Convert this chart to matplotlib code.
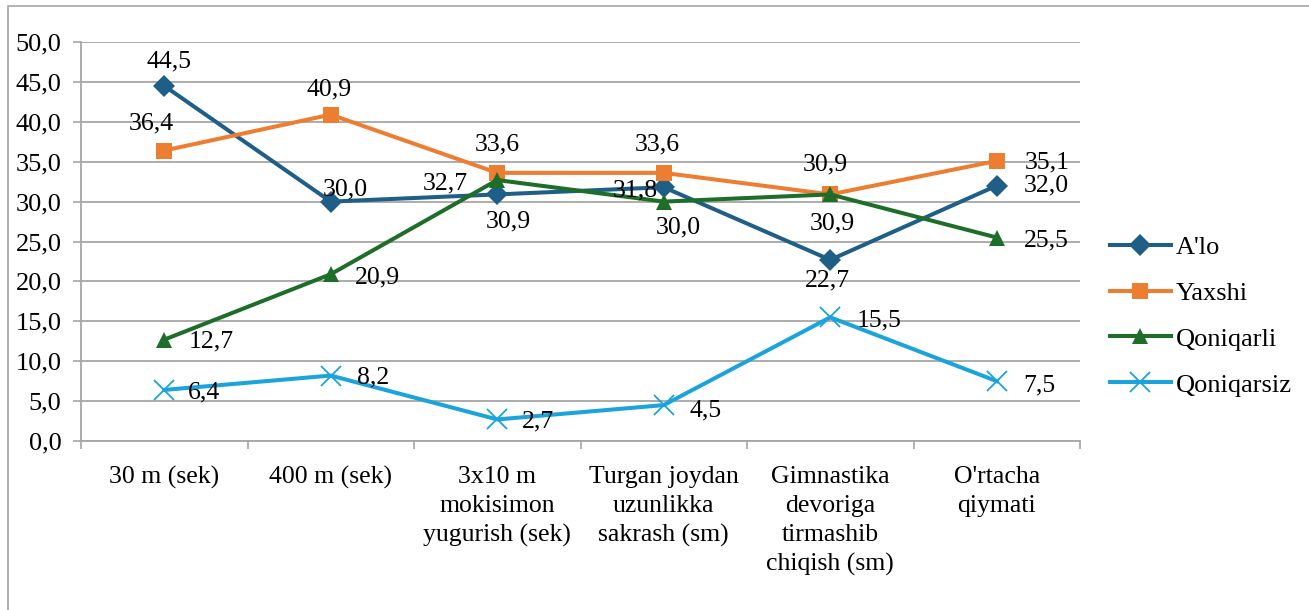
import numpy as np
import matplotlib.pyplot as plt
from matplotlib.patches import Rectangle

plt.rcParams['font.family'] = ['Liberation Serif', 'DejaVu Serif']

categories = ["30 m (sek)", "400 m (sek)", "3x10 m\nmokisimon\nyugurish (sek)",
              "Turgan joydan\nuzunlikka\nsakrash (sm)", "Gimnastika\ndevoriga\ntirmashib\nchiqish (sm)",
              "O'rtacha\nqiymati"]
alo = [44.5, 30.0, 30.9, 31.8, 22.7, 32.0]
yaxshi = [36.4, 40.9, 33.6, 33.6, 30.9, 35.1]
qoniqarli = [12.7, 20.9, 32.7, 30.0, 30.9, 25.5]
qoniqarsiz = [6.4, 8.2, 2.7, 4.5, 15.5, 7.5]
yticks = np.arange(0, 55, 5)

# label offsets in pixels (dx, dy), per point
off_alo = [(5, 24), (15, 12), (11, -27), (-28, -3), (-3, -21), (50, 0)]
off_yax = [(-13, 27), (-2, 25), (0, 28), (-6, 28), (-5, 30), (50, -2)]
off_qon = [(47, -2), (47, -3), (-52, -3), (15, -26), (2, -29), (50, -3)]
off_qsz = [(40, -3), (42, -2), (41, -2), (42, -5), (49, -3), (43, -4)]

fig = plt.figure(figsize=(13.09, 6.10), dpi=100)
ax = fig.add_axes([81/1309, 1-441/610, (1080-81)/1309, (441-42)/610])

x = np.arange(len(categories))
series = [
    ("A'lo", alo, "#1F5F87", "D", 11, off_alo),
    ("Yaxshi", yaxshi, "#ED7D31", "s", 11, off_yax),
    ("Qoniqarli", qoniqarli, "#1E6E2A", "^", 12, off_qon),
    ("Qoniqarsiz", qoniqarsiz, "#1BA3DB", "x", 14, off_qsz),
]
for name, vals, col, mk, ms, offs in series:
    ax.plot(x, vals, color=col, lw=2.9, marker=mk, markersize=ms,
            markeredgewidth=1.3 if mk == "x" else 0, label=name, zorder=3)
    for xi, v, (dx, dy) in zip(x, vals, offs):
        ax.annotate(f"{v:.1f}".replace(".", ","), (xi, v), xytext=(dx, dy),
                    textcoords="offset pixels", ha="center", va="center",
                    fontsize=18.5, zorder=4)

ax.set_xlim(-0.5, 5.5)
ax.set_ylim(0, 50)
ax.set_yticks(yticks)
ax.set_yticklabels([f"{v:.1f}".replace(".", ",") for v in yticks], fontsize=19)
ax.set_xticks(x)
ax.set_xticklabels(categories, fontsize=18.5, linespacing=1.4, va="top")
ax.set_xticks(np.arange(-0.5, 6, 1), minor=True)
ax.tick_params(axis="x", which="major", length=0, pad=18)
ax.tick_params(axis="x", which="minor", length=6, color="#A6A6A6", width=1.2)
ax.tick_params(axis="y", length=6, color="#A6A6A6", width=1.2, pad=8)

ax.grid(axis="y", color="#A6A6A6", lw=1.3, zorder=0)
for s in ["top", "right"]:
    ax.spines[s].set_visible(False)
for s in ["left", "bottom"]:
    ax.spines[s].set_color("#A6A6A6")
    ax.spines[s].set_linewidth(1.3)

ax.legend(loc="center left", bbox_to_anchor=(1110/1309, 1-316/610), bbox_transform=fig.transFigure,
          frameon=False, fontsize=19, handlelength=2.3, handletextpad=0.2, labelspacing=0.85,
          borderaxespad=0, borderpad=0)

fig.patches.append(Rectangle((8/1309, -0.1), 1.2, 1-6/610+0.1, transform=fig.transFigure,
                             fill=False, edgecolor="#A6A6A6", lw=1.2))

fig.savefig("out.png")
